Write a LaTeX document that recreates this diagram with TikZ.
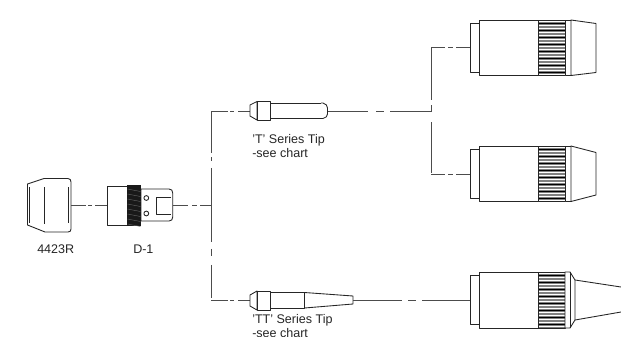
\documentclass[tikz,border=0pt]{standalone}
\usepackage{fontspec}
\setmainfont{Liberation Sans}
\tikzset{
  part/.style={draw=black!85,line width=0.65pt,fill=white,line join=round},
  lbl/.style={inner sep=0pt,anchor=base west,font=\fontsize{9.4}{14}\selectfont,text=black!85},
  lead/.style={draw=black!70,line width=0.65pt,line join=miter}
}
\newcommand{\knurlband}[3]{% x top bottom
  \fill[black!50] (#1,#2) rectangle (#1+27,#3);
  \foreach \k in {0,...,7}{
    \draw[white,line width=0.8pt] (#1,#2+1.7+\k*7) -- (#1+27,#2+1.7+\k*7);
    \draw[black,line width=0.7pt] (#1,#2+3.6+\k*7) -- (#1+27,#2+3.6+\k*7);
    \draw[white,line width=0.8pt] (#1,#2+5.4+\k*7) -- (#1+27,#2+5.4+\k*7);
  }
  \draw[part,fill=none] (#1,#2) rectangle (#1+27,#3);
}
\begin{document}
\begin{tikzpicture}[x=0.75pt,y=-0.75pt]
\useasboundingbox[fill=white] (0,0) rectangle (621,336);
\coordinate (capR) at (71,205);
\coordinate (d1L) at (107,205);
\coordinate (d1R) at (173,205);
\coordinate (J1) at (211,205);
\coordinate (JT) at (211,111);
\coordinate (JB) at (211,300);
\coordinate (tL) at (250,111);
\coordinate (tR) at (328,111);
\coordinate (J2) at (431,111);
\coordinate (J2t) at (431,47);
\coordinate (J2b) at (431,174);
\coordinate (a) at (470,47);
\coordinate (b) at (470,174);
\coordinate (ttL) at (250,300);
\coordinate (ttR) at (353,300);
\coordinate (c) at (470,300);
% connectors
\draw[lead,dash pattern=on 11.25pt off 1.5pt on 3pt off 2.25pt on 9.75pt] (capR) -- (d1L);
\draw[lead,dash pattern=on 11.25pt off 3pt on 3.75pt off 2.25pt on 8.25pt] (d1R) -- (J1);
\draw[lead,dash pattern=on 12.75pt off 1.5pt on 3pt off 3pt on 9.75pt] (JT) -- (tL);
\draw[lead,dash pattern=on 12.75pt off 1.5pt on 3pt off 3pt on 9.75pt] (JB) -- (ttL);
\draw[lead,dash pattern=on 31.5pt off 3pt on 3pt off 5.2pt on 55.5pt off 5.2pt on 5.2pt off 6.8pt on 25pt] (JT) -- (JB);
\draw[lead,dash pattern=on 30pt off 6pt on 6pt off 4.5pt on 31pt] (tR) -- (J2);
\draw[lead,dash pattern=on 39.75pt off 3.75pt on 5.25pt off 7.5pt on 38.25pt] (J2t) -- (J2b);
\draw[lead,dash pattern=on 10.5pt off 2.25pt on 3.75pt off 2.25pt on 10.5pt] (J2t) -- (a);
\draw[lead,dash pattern=on 10.5pt off 2.25pt on 3.75pt off 2.25pt on 10.5pt] (J2b) -- (b);
\draw[lead,dash pattern=on 36.75pt off 4.5pt on 6pt off 4.5pt on 36pt] (ttR) -- (c);
% 4423R
\draw[part] (27.5,184) -- (44,178.5) -- (68,178.5) .. controls (70,178.5) and (71,180) .. (71,182) -- (71,229) .. controls (71,231) and (70,232) .. (68,232) -- (45,232) -- (27.5,225) -- cycle;
\draw[part] (44.5,187) -- (44.5,224);
\draw[part] (29,187) -- (29,223);
\draw[part] (68,187) -- (68,223);
\node[lbl] (l1) at (37,253) {4423R};
% D-1
\draw[part] (141,189) -- (169,189) .. controls (171.5,189) and (172.7,190.5) .. (172.7,193) -- (172.7,217) .. controls (172.7,219.5) and (171.5,221) .. (169,221) -- (141,221) -- cycle;
\draw[part] (171,197.5) -- (156,197.5) -- (156,214.5) -- (171,214.5);
\draw[part] (146.3,198) circle (2.4);
\draw[part] (146.3,213.5) circle (2.4);
\draw[part] (107.5,186) rectangle (127,225);
\fill[black!90] (127,185) rectangle (141,226);
\foreach \y in {189,194,...,224}{\draw[black!60,line width=0.3pt] (127.5,\y) -- (140.5,\y+2.5);}
\node[lbl] (l2) at (133,253) {D-1};
% T tip
\draw[part] (250,105) -- (257,101.5) -- (257,120) -- (250,116) -- cycle;
\draw[part] (270,103) -- (321,103) -- (321,118.5) -- (270,118.5) -- cycle;
\draw[part] (321,103) -- (323,103) .. controls (326,103.5) and (327.5,106) .. (327.5,108) -- (327.5,114) .. controls (327.5,116) and (326,118) .. (323,118.5) -- (321,118.5);
\draw[part] (257,101.5) rectangle (270,120);
\node[lbl] (l3) at (252,143) {'T' Series Tip};
\node[lbl] (l4) at (252,157) {-see chart};
% TT tip
\draw[part] (250,295) -- (257,291) -- (257,310) -- (250,306) -- cycle;
\draw[part] (270,292.5) -- (304.5,292.5) -- (304.5,308) -- (270,308) -- cycle;
\draw[part] (304.5,292.5) -- (353,296) -- (353,304) -- (304.5,308) -- cycle;
\draw[part] (257,291) rectangle (270,310);
\node[lbl] (l5) at (252,323) {'TT' Series Tip};
\node[lbl] (l6) at (252,337) {-see chart};
% top torch
\draw[part] (470,23.5) rectangle (479.5,72);
\draw[part] (479.5,20) rectangle (538,75.5);
\knurlband{538}{20}{75.5}
\draw[part] (565,20) rectangle (571,75.5);
\draw[part] (571,20) -- (596,23.5) -- (596,72.5) -- (571,75.5) -- cycle;
% middle torch
\draw[part] (470,149) rectangle (479.5,198.5);
\draw[part] (479.5,146) rectangle (538,201.5);
\knurlband{538}{146}{201.5}
\draw[part] (565,146) rectangle (571,201.5);
\draw[part] (571,146) -- (596,152.5) -- (596,195) -- (571,201.5) -- cycle;
% bottom torch
\draw[part] (470,275.5) rectangle (479.5,324.5);
\draw[part] (479.5,272) rectangle (538,328);
\knurlband{538}{272}{328}
\draw[part] (565,272) -- (570,272) -- (575,280) -- (575,320) -- (570,328) -- (565,328) -- cycle;
\draw[part] (570,272) -- (570,328);
\draw[part] (575,280) -- (621,287);
\draw[part] (575,320) -- (621,312);
\end{tikzpicture}
\end{document}
